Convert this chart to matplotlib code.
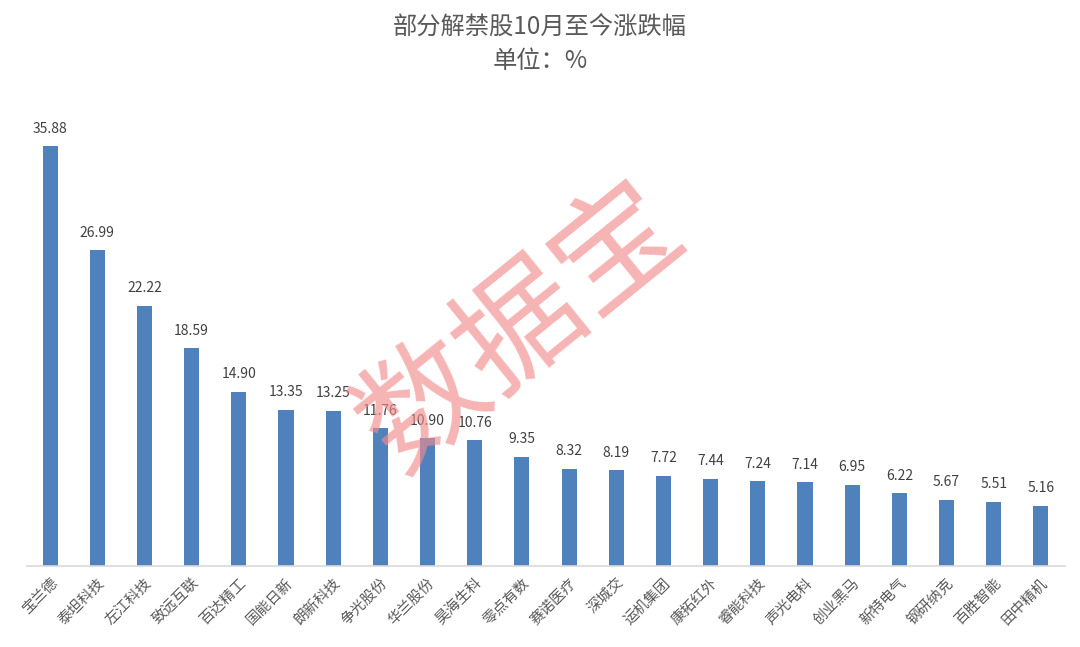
import matplotlib
matplotlib.use('Agg')
import matplotlib.pyplot as plt

plt.rcParams['font.family'] = ['Noto Sans CJK SC', 'DejaVu Sans']

# data
names = ['宝兰德', '泰坦科技', '左江科技', '致远互联', '百达精工', '国能日新',
         '朗新科技', '争光股份', '华兰股份', '昊海生科', '零点有数', '赛诺医疗',
         '深城交', '运机集团', '康拓红外', '睿能科技', '声光电科', '创业黑马',
         '新特电气', '钢研纳克', '百胜智能', '田中精机']
changes = [35.88, 26.99, 22.22, 18.59, 14.90, 13.35, 13.25, 11.76, 10.90, 10.76,
           9.35, 8.32, 8.19, 7.72, 7.44, 7.24, 7.14, 6.95, 6.22, 5.67, 5.51, 5.16]

fig = plt.figure(figsize=(10.8, 6.47), dpi=100)
ax = fig.add_axes([26.5 / 1080, 81 / 647, 1038 / 1080, 468 / 647])

x = range(len(names))
ax.bar(x, changes, width=0.32, color='#4F81BD', zorder=2)
for i, v in zip(x, changes):
    ax.text(i, v + 0.9, '%.2f' % v, ha='center', va='bottom',
            fontsize=10, color='#404040')

ax.set_xlim(-0.5, len(names) - 0.5)
ax.set_ylim(0, 40)
ax.set_xticks(list(x))
ax.set_xticklabels(names, rotation=45, ha='right', rotation_mode='anchor',
                   fontsize=10.5, color='#595959')
ax.tick_params(axis='x', length=0, pad=7)
ax.set_yticks([])
for s in ['top', 'left', 'right']:
    ax.spines[s].set_visible(False)
ax.spines['bottom'].set_color('#D9D9D9')
ax.spines['bottom'].set_linewidth(1.2)

fig.text(0.5, 1 - 28 / 647, '部分解禁股10月至今涨跌幅', ha='center', va='center',
         fontsize=17.5, color='#595959')
fig.text(0.5, 1 - 61 / 647, '单位：%', ha='center', va='center',
         fontsize=17.5, color='#595959')

# watermark
fig.text(522 / 1080, 1 - 328 / 647, '数据宝', ha='center', va='center',
         rotation=39, fontsize=90, fontweight='light', color='#F28C8C',
         alpha=0.65, zorder=10)

fig.savefig('out.png', dpi=100)
